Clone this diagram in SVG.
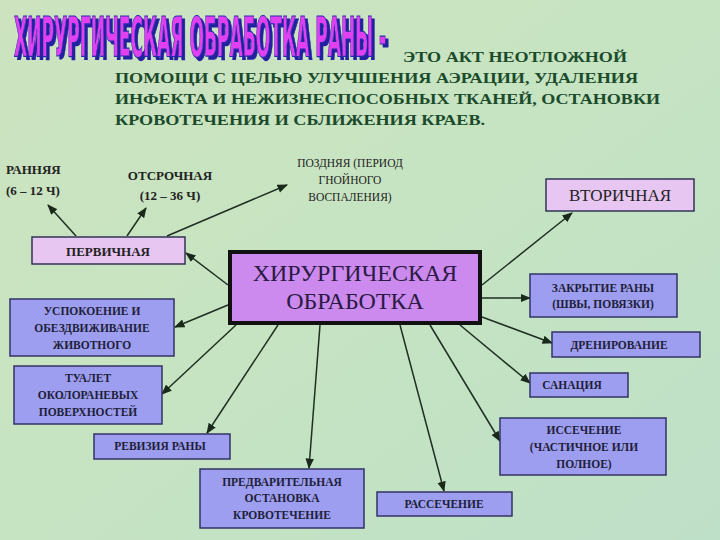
<svg xmlns="http://www.w3.org/2000/svg" width="720" height="540" viewBox="0 0 720 540">
<defs>
<linearGradient id="bg" x1="0" y1="0" x2="1" y2="1">
<stop offset="0" stop-color="#cde3bf"/><stop offset="0.5" stop-color="#c6e4c2"/><stop offset="1" stop-color="#bfe0c8"/>
</linearGradient>
<filter id="sh" x="-5%" y="-20%" width="110%" height="140%">
<feDropShadow dx="3" dy="3" stdDeviation="0" flood-color="#2020a0"/>
</filter>
<marker id="ah" viewBox="0 0 10 10" refX="9" refY="5" markerWidth="7" markerHeight="7" orient="auto">
<path d="M0,1 L10,5 L0,9 z" fill="#1a2a1a"/>
</marker>
<style>
.lk{stroke:#1f2f22;stroke-width:1.5;fill:none;marker-end:url(#ah)}
.bx{fill:#9d9ef0;stroke:#333366;stroke-width:1.5}
.lt{fill:#e8c6f2;stroke:#333355;stroke-width:1.5}
.t{font-family:"Liberation Serif",serif;font-weight:bold;font-size:11.5px;fill:#1e1e3a;text-anchor:middle}
.g{font-family:"Liberation Serif",serif;font-weight:bold;font-size:15px;fill:#1b4b2b}
.s{font-family:"Liberation Serif",serif;font-weight:bold;font-size:13px;fill:#222;text-anchor:middle}
</style>
</defs>
<rect width="720" height="540" fill="url(#bg)"/>
<g id="title">
<text x="14" y="56" font-family="DejaVu Sans Condensed, sans-serif" font-weight="bold" font-size="56" textLength="372" lengthAdjust="spacingAndGlyphs" fill="#e040f0" stroke="#2a2ab0" stroke-width="1.2" filter="url(#sh)">ХИРУРГИЧЕСКАЯ ОБРАБОТКА РАНЫ -</text>
<text class="g" x="403" y="62" textLength="224" lengthAdjust="spacingAndGlyphs">ЭТО АКТ НЕОТЛОЖНОЙ</text>
<text class="g" x="115" y="83" textLength="523" lengthAdjust="spacingAndGlyphs">ПОМОЩИ С ЦЕЛЬЮ УЛУЧШЕНИЯ АЭРАЦИИ, УДАЛЕНИЯ</text>
<text class="g" x="115" y="104" textLength="545" lengthAdjust="spacingAndGlyphs">ИНФЕКТА И НЕЖИЗНЕСПОСОБНЫХ ТКАНЕЙ, ОСТАНОВКИ</text>
<text class="g" x="115" y="125" textLength="370" lengthAdjust="spacingAndGlyphs">КРОВОТЕЧЕНИЯ И СБЛИЖЕНИЯ КРАЕВ.</text>
</g>
<g id="connectors">
<line class="lk" x1="76" y1="236" x2="48" y2="205"/>
<line class="lk" x1="127" y1="236" x2="146" y2="208"/>
<line class="lk" x1="167" y1="236" x2="287" y2="185"/>
<line class="lk" x1="228" y1="285" x2="186" y2="253"/>
<line class="lk" x1="228" y1="305" x2="175" y2="327"/>
<line class="lk" x1="236" y1="325" x2="162" y2="394"/>
<line class="lk" x1="278" y1="325" x2="207" y2="433"/>
<line class="lk" x1="320" y1="325" x2="309" y2="468"/>
<line class="lk" x1="400" y1="325" x2="444" y2="491"/>
<line class="lk" x1="430" y1="325" x2="500" y2="441"/>
<line class="lk" x1="460" y1="325" x2="530" y2="383"/>
<line class="lk" x1="482" y1="317" x2="552" y2="343"/>
<line class="lk" x1="482" y1="298" x2="530" y2="298"/>
<line class="lk" x1="482" y1="285" x2="572" y2="213"/>
</g>
<g id="rannyaya"><text class="s" x="6" y="174" style="text-anchor:start">РАННЯЯ</text><text class="s" x="6" y="195" style="text-anchor:start">(6 – 12 Ч)</text></g>
<g id="otsrochnaya"><text class="s" x="170" y="180">ОТСРОЧНАЯ</text><text class="s" x="170" y="200">(12 – 36 Ч)</text></g>
<g id="pozdnyaya"><text class="t" x="350" y="167" style="font-weight:normal;fill:#222">ПОЗДНЯЯ (ПЕРИОД</text><text class="t" x="350" y="184" style="font-weight:normal;fill:#222">ГНОЙНОГО</text><text class="t" x="350" y="201" style="font-weight:normal;fill:#222">ВОСПАЛЕНИЯ)</text></g>
<g id="vtorichnaya"><rect class="lt" x="546" y="179" width="148" height="32"/><text x="620" y="201" font-family="Liberation Serif, serif" font-size="17" fill="#222" text-anchor="middle">ВТОРИЧНАЯ</text></g>
<g id="pervichnaya"><rect class="lt" x="32" y="237" width="153" height="27"/><text class="s" x="108" y="256">ПЕРВИЧНАЯ</text></g>
<g id="center"><rect x="230" y="252" width="250" height="71" fill="#cc8aee" stroke="#111" stroke-width="4"/><text x="355" y="281" font-family="Liberation Serif, serif" font-size="24" fill="#2a1a44" text-anchor="middle">ХИРУРГИЧЕСКАЯ</text><text x="355" y="309" font-family="Liberation Serif, serif" font-size="24" fill="#2a1a44" text-anchor="middle">ОБРАБОТКА</text></g>
<g id="zakrytie"><rect class="bx" x="530" y="274" width="147" height="43"/><text class="t" x="603" y="292">ЗАКРЫТИЕ РАНЫ</text><text class="t" x="603" y="308">(ШВЫ, ПОВЯЗКИ)</text></g>
<g id="drenirovanie"><rect class="bx" x="552" y="332" width="148" height="25"/><text class="t" x="619" y="349">ДРЕНИРОВАНИЕ</text></g>
<g id="sanaciya"><rect class="bx" x="530" y="373" width="98" height="24"/><text class="t" x="572" y="389">САНАЦИЯ</text></g>
<g id="issechenie"><rect class="bx" x="500" y="418" width="166" height="57"/><text class="t" x="584" y="434">ИССЕЧЕНИЕ</text><text class="t" x="584" y="451">(ЧАСТИЧНОЕ ИЛИ</text><text class="t" x="584" y="468">ПОЛНОЕ)</text></g>
<g id="rassechenie"><rect class="bx" x="377" y="492" width="135" height="24"/><text class="t" x="444" y="508">РАССЕЧЕНИЕ</text></g>
<g id="predvaritelnaya"><rect class="bx" x="200" y="469" width="164" height="59"/><text class="t" x="282" y="486">ПРЕДВАРИТЕЛЬНАЯ</text><text class="t" x="282" y="502">ОСТАНОВКА</text><text class="t" x="282" y="519">КРОВОТЕЧЕНИЕ</text></g>
<g id="reviziya"><rect class="bx" x="94" y="434" width="136" height="25"/><text class="t" x="160" y="450">РЕВИЗИЯ РАНЫ</text></g>
<g id="tualet"><rect class="bx" x="14" y="366" width="148" height="58"/><text class="t" x="88" y="382">ТУАЛЕТ</text><text class="t" x="88" y="399">ОКОЛОРАНЕВЫХ</text><text class="t" x="88" y="416">ПОВЕРХНОСТЕЙ</text></g>
<g id="uspokoenie"><rect class="bx" x="10" y="299" width="164" height="57"/><text class="t" x="92" y="315">УСПОКОЕНИЕ И</text><text class="t" x="92" y="332">ОБЕЗДВИЖИВАНИЕ</text><text class="t" x="92" y="349">ЖИВОТНОГО</text></g>
</svg>
